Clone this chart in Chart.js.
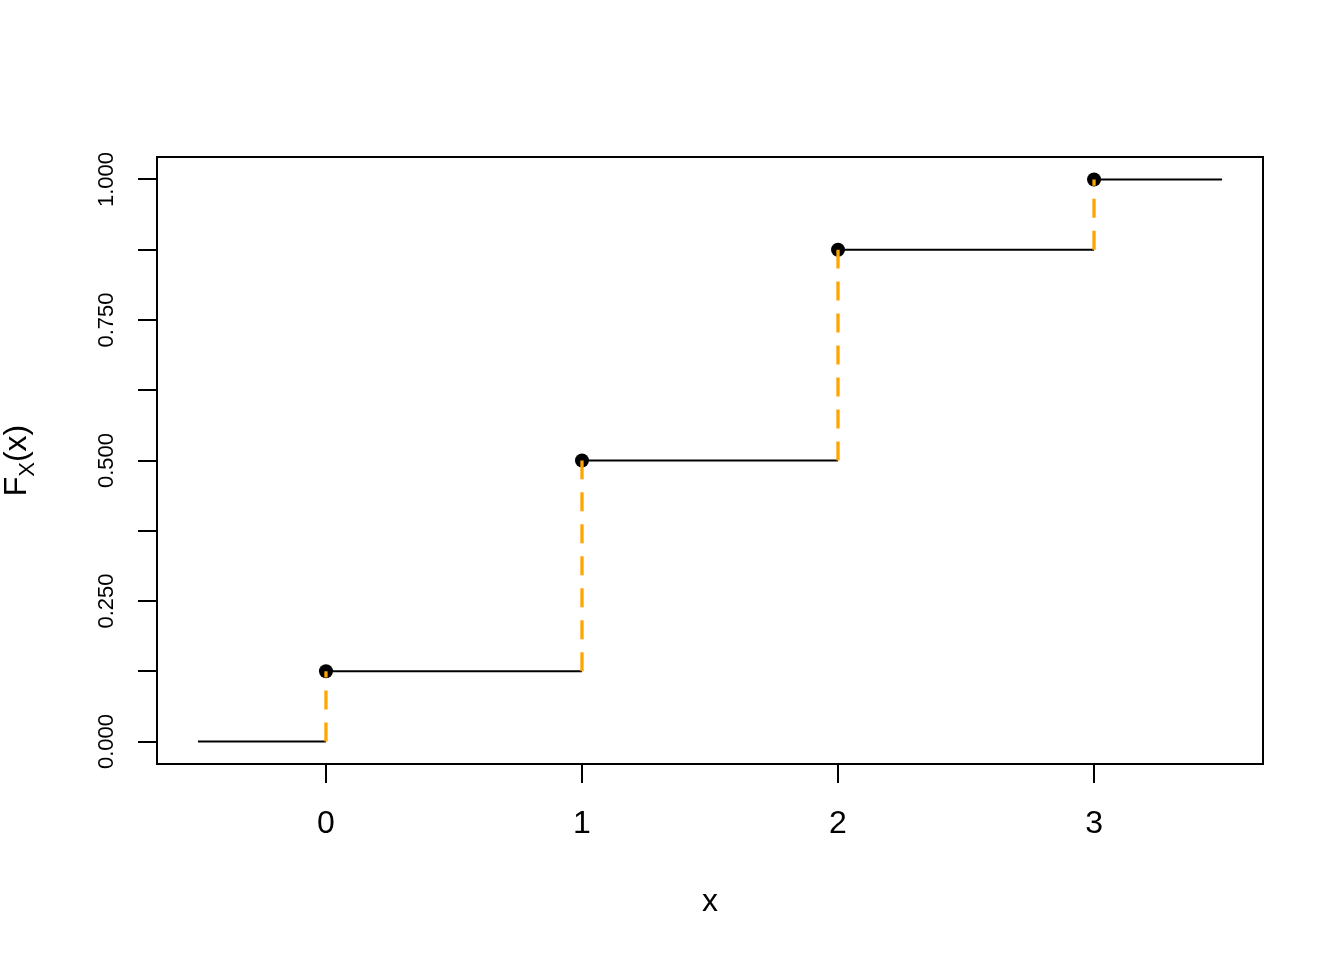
<!DOCTYPE html>
<html>
<head>
<meta charset="utf-8">
<script src="https://cdn.jsdelivr.net/npm/chart.js@4/dist/chart.umd.min.js"></script>
<style>
  body { margin: 0; background: #fff; }
  canvas { display: block; }
</style>
</head>
<body>
<canvas id="cdfChart" width="1344" height="960"></canvas>
<script>
// jump points of the step function and the cdf value reached there
const jumpX = [0, 1, 2, 3];
const cdfValues = [0.125, 0.5, 0.875, 1];

// horizontal pieces: start, end, level
const segStart = [-0.5, 0, 1, 2, 3];
const segEnd = [0, 1, 2, 3, 3.5];
const segLevel = [0, 0.125, 0.5, 0.875, 1];

// axis ticks
const xTicks = [0, 1, 2, 3];
const yTicks = [0, 0.125, 0.25, 0.375, 0.5, 0.625, 0.75, 0.875, 1];
const yTickLabels = ['0.000', '', '0.250', '', '0.500', '', '0.750', '', '1.000'];

const FONT = '"Liberation Sans", Arial, sans-serif';

// build step line with gaps between pieces
let stepData = [];
for (let i = 0; i < segStart.length; i++) {
    stepData.push({x: segStart[i], y: segLevel[i]});
    stepData.push({x: segEnd[i], y: segLevel[i]});
    stepData.push({x: segEnd[i], y: null});
}

let datasets = [];
// orange dashed jumps, one dataset each so the dash starts at the bottom
for (let i = 0; i < jumpX.length; i++) {
    datasets.push({
        type: 'line',
        data: [{x: jumpX[i], y: segLevel[i]}, {x: jumpX[i], y: cdfValues[i]}],
        borderColor: '#FFA500',
        borderWidth: 3.3,
        borderDash: [19, 13],
        pointRadius: 0,
        order: 0
    });
}
datasets.push({
    type: 'scatter',
    data: jumpX.map((x, i) => ({x: x, y: cdfValues[i]})),
    backgroundColor: '#000',
    borderColor: '#000',
    pointRadius: 7,
    pointBorderWidth: 0,
    order: 1
});
datasets.push({
    type: 'line',
    data: stepData,
    borderColor: '#000',
    borderWidth: 2,
    pointRadius: 0,
    spanGaps: false,
    order: 2
});

// box around plot + rotated y labels and y title
const rPlotExtras = {
    id: 'rPlotExtras',
    afterDraw(chart) {
        const ctx = chart.ctx;
        const a = chart.chartArea;
        const ys = chart.scales.y;
        ctx.save();
        ctx.strokeStyle = '#000';
        ctx.lineWidth = 2;
        ctx.strokeRect(a.left, a.top, a.right - a.left, a.bottom - a.top);

        ctx.fillStyle = '#000';
        ctx.font = '22px ' + FONT;
        ctx.textAlign = 'center';
        ctx.textBaseline = 'alphabetic';
        for (let i = 0; i < yTicks.length; i++) {
            if (!yTickLabels[i]) continue;
            const py = ys.getPixelForValue(yTicks[i]);
            ctx.save();
            ctx.translate(113, py);
            ctx.rotate(-Math.PI / 2);
            ctx.fillText(yTickLabels[i], 0, 0);
            ctx.restore();
        }

        // F_X(x)
        const cy = ys.getPixelForValue(0.5);
        ctx.save();
        ctx.translate(26, cy);
        ctx.rotate(-Math.PI / 2);
        ctx.textAlign = 'left';
        ctx.font = '32px ' + FONT;
        const wF = ctx.measureText('F').width;
        const wP = ctx.measureText('(x)').width;
        ctx.font = '22px ' + FONT;
        const wX = ctx.measureText('X').width;
        let x0 = -(wF + wX + wP) / 2;
        ctx.font = '32px ' + FONT;
        ctx.fillText('F', x0, 0);
        ctx.font = '22px ' + FONT;
        ctx.fillText('X', x0 + wF, 8);
        ctx.font = '32px ' + FONT;
        ctx.fillText('(x)', x0 + wF + wX, 0);
        ctx.restore();
        ctx.restore();
    }
};

const ctx = document.getElementById('cdfChart').getContext('2d');
const cdfChart = new Chart(ctx, {
    type: 'scatter',
    data: {datasets: datasets},
    options: {
        responsive: false,
        animation: false,
        layout: {padding: {top: 157, right: 81, left: 0, bottom: 0}},
        plugins: {legend: {display: false}, tooltip: {enabled: false}},
        scales: {
            x: {
                type: 'linear',
                min: -0.66,
                max: 3.66,
                afterBuildTicks: (scale) => { scale.ticks = xTicks.map(v => ({value: v})); },
                afterFit: (scale) => { scale.height = 196; },
                border: {display: false},
                grid: {drawOnChartArea: false, color: '#000', lineWidth: 2, tickLength: 19},
                ticks: {
                    color: '#000',
                    font: {family: FONT, size: 32},
                    padding: 22,
                    maxRotation: 0,
                    callback: (v) => String(v)
                },
                title: {
                    display: true,
                    text: 'x',
                    color: '#000',
                    font: {family: FONT, size: 32},
                    padding: {top: 0, bottom: 39}
                }
            },
            y: {
                type: 'linear',
                min: -0.04,
                max: 1.04,
                afterBuildTicks: (scale) => { scale.ticks = yTicks.map(v => ({value: v})); },
                afterFit: (scale) => { scale.width = 157; },
                border: {display: false},
                grid: {drawOnChartArea: false, color: '#000', lineWidth: 2, tickLength: 19},
                ticks: {display: false}
            }
        }
    },
    plugins: [rPlotExtras]
});
</script>
</body>
</html>
